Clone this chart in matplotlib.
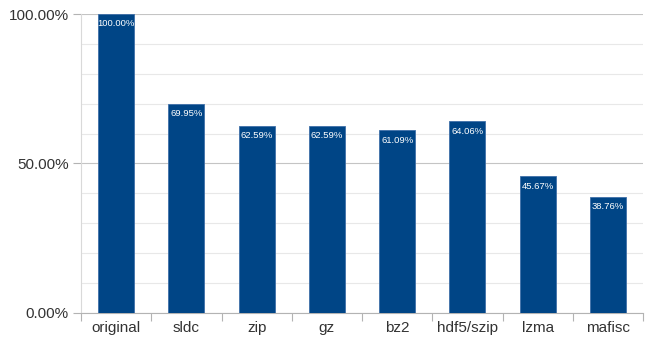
import matplotlib.pyplot as plt
from matplotlib.ticker import MultipleLocator, FixedLocator, NullFormatter

methods = ["original", "sldc", "zip", "gz", "bz2", "hdf5/szip", "lzma", "mafisc"]
ratios = [100.00, 69.95, 62.59, 62.59, 61.09, 64.06, 45.67, 38.76]

plt.rcParams["font.family"] = ["Liberation Sans", "DejaVu Sans"]

fig = plt.figure(figsize=(6.45, 3.45), dpi=100)
ax = fig.add_axes([0.1256, 0.0928, 0.8713, 0.8666])

x = list(range(len(methods)))
ax.bar(x, ratios, width=0.51, color="#004586", edgecolor="#3f6fa8", linewidth=0.6, zorder=3)

# percentage labels inside the top of each bar
for i, v in enumerate(ratios):
    ax.text(i, v - 1.8, f"{v:.2f}%", ha="center", va="top", color="white",
            fontsize=6.8, zorder=4)

ax.set_xlim(-0.5, len(methods) - 0.5)
ax.set_ylim(0, 100)

ax.yaxis.set_minor_locator(MultipleLocator(10))
ax.set_yticks([0, 50, 100])
ax.set_yticklabels(["0.00%", "50.00%", "100.00%"])
ax.grid(axis="y", which="major", color="#c4c4c4", linewidth=0.8, zorder=0)
ax.grid(axis="y", which="minor", color="#e8e8e8", linewidth=0.8, zorder=0)

ax.set_xticks(x)
ax.set_xticklabels(methods)
ax.xaxis.set_minor_locator(FixedLocator([k - 0.5 for k in range(len(methods) + 1)]))
ax.xaxis.set_minor_formatter(NullFormatter())

ax.tick_params(axis="x", which="major", length=0, labelsize=11, pad=6, labelcolor="#333333")
ax.tick_params(axis="x", which="minor", length=6, color="#b3b3b3", width=0.8)
ax.tick_params(axis="y", which="major", length=6, color="#b3b3b3", width=0.8, pad=3,
               labelsize=11, labelcolor="#333333")
ax.tick_params(axis="y", which="minor", length=0)

for side in ["top", "right"]:
    ax.spines[side].set_visible(False)
ax.spines["left"].set_color("#d9d9d9")
ax.spines["bottom"].set_color("#b3b3b3")
ax.spines["left"].set_linewidth(0.8)
ax.spines["bottom"].set_linewidth(0.8)

fig.savefig("out.png", dpi=100)
